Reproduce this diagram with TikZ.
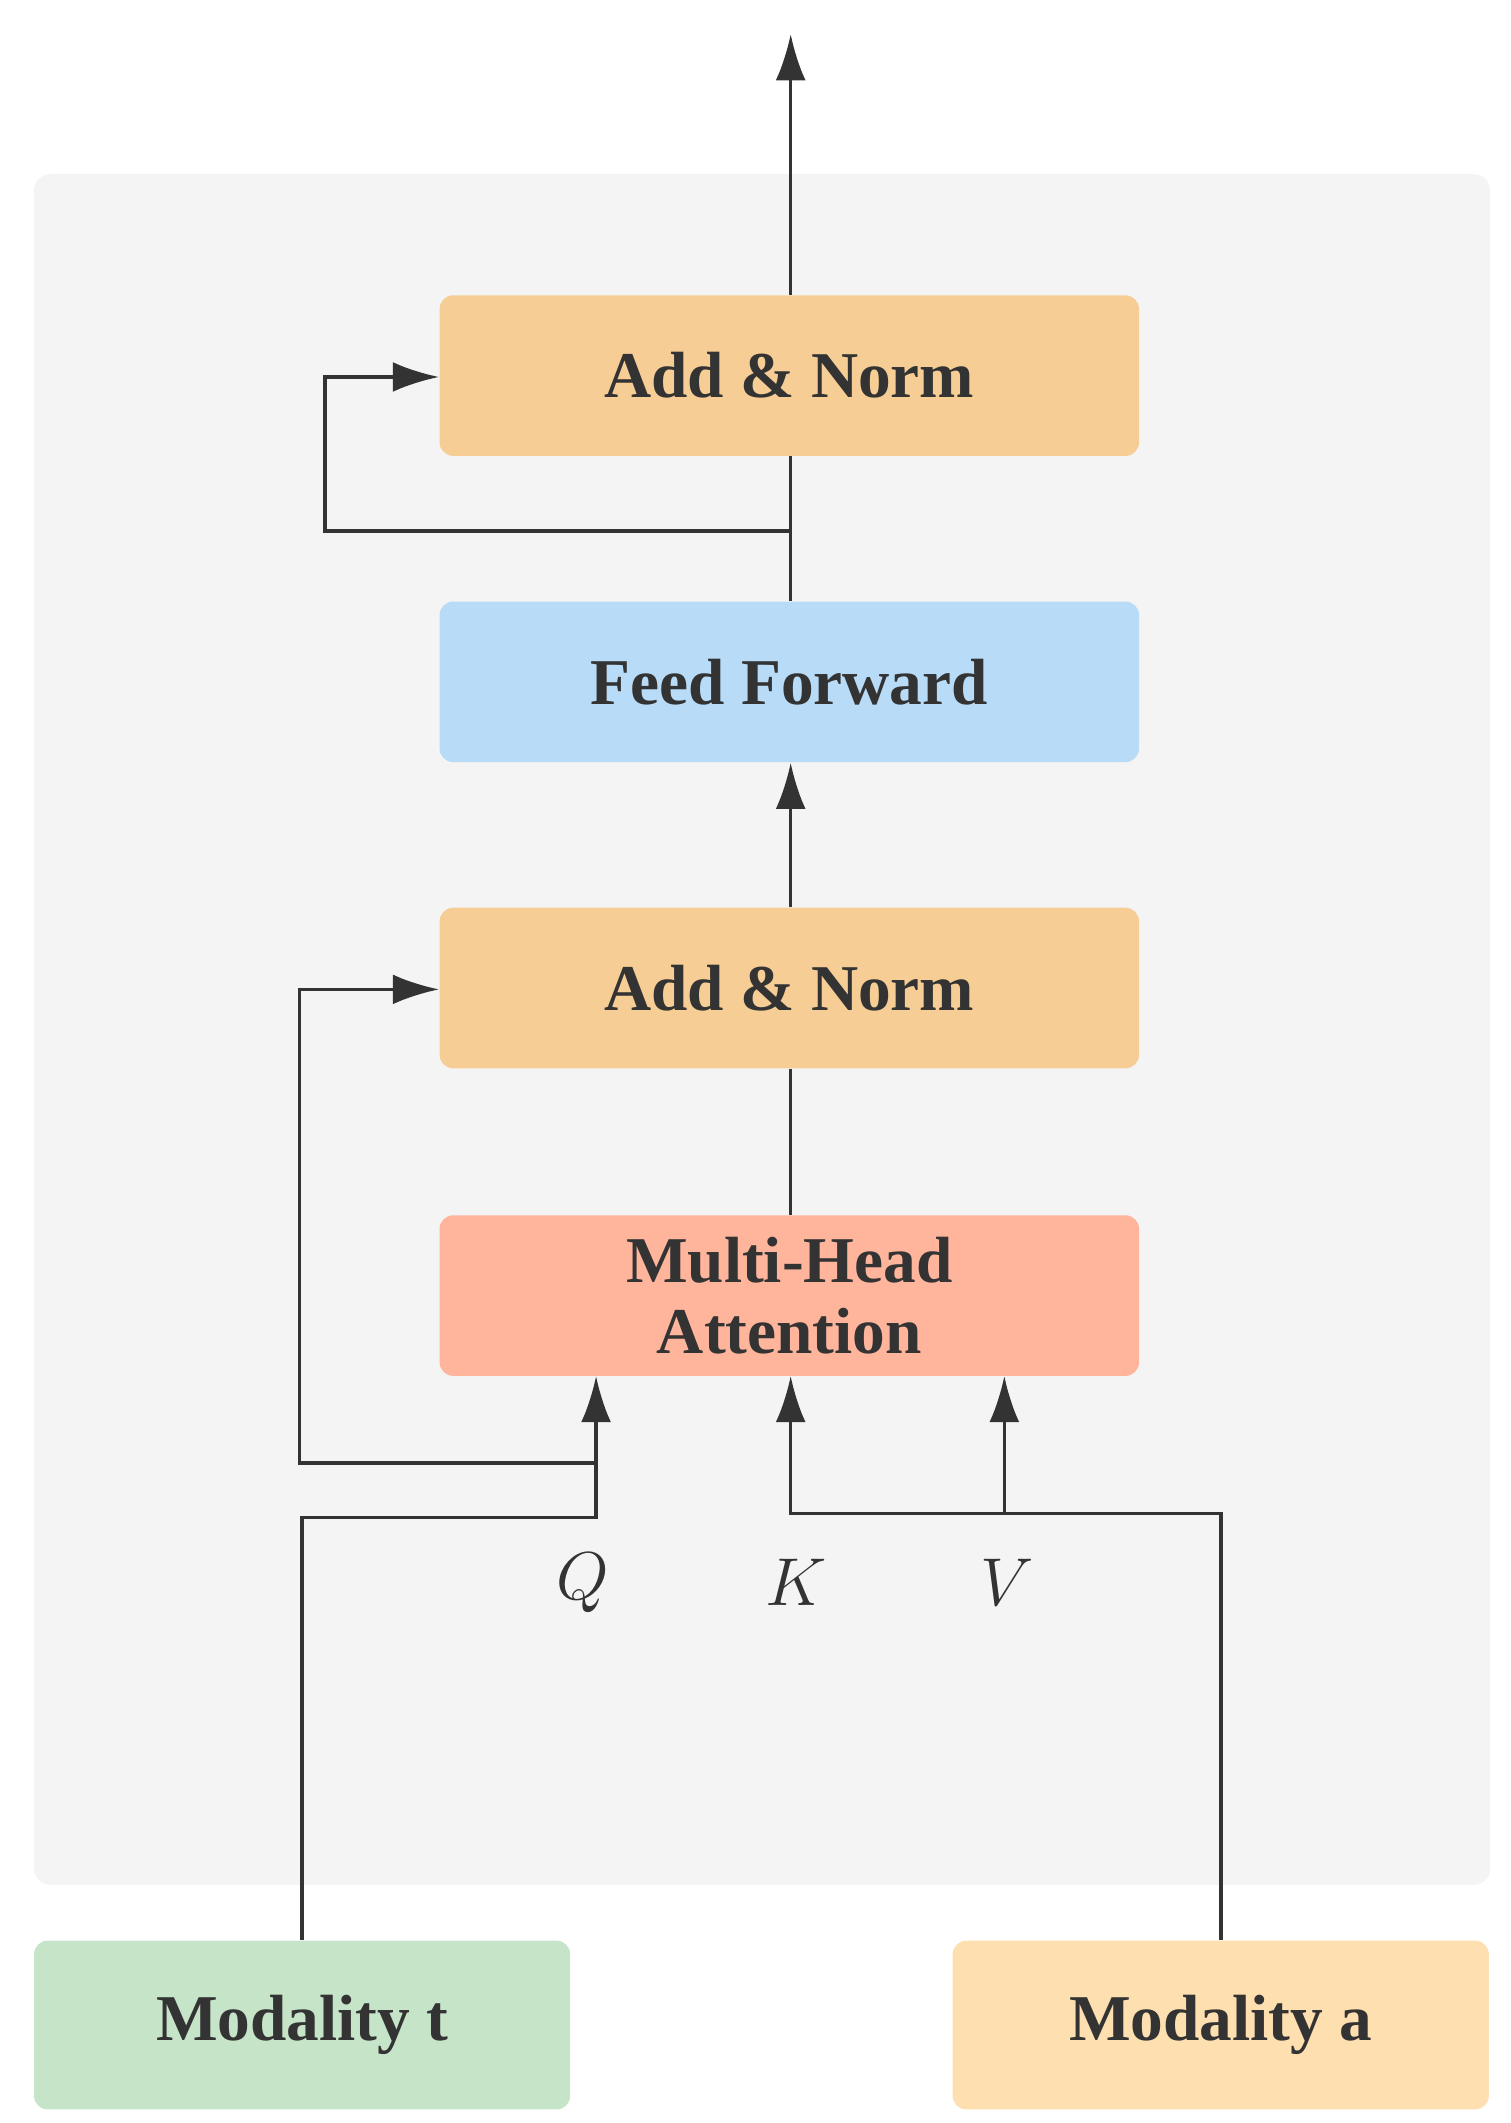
\documentclass[tikz,border=0pt]{standalone}
\usepackage{fontspec}
\setmainfont{Liberation Serif}
\usetikzlibrary{arrows.meta}
\definecolor{bg}{HTML}{F4F4F4}
\definecolor{addn}{HTML}{F6CE95}
\definecolor{ff}{HTML}{B8DCF8}
\definecolor{mha}{HTML}{FFB59C}
\definecolor{modt}{HTML}{C6E4C8}
\definecolor{moda}{HTML}{FEDFB0}
\definecolor{ink}{HTML}{333333}
\begin{document}
\begin{tikzpicture}[x=0.5pt,y=-0.5pt,
  box/.style={draw=none,rounded corners=5pt,inner sep=0pt,text=ink,font=\fontsize{24}{28}\selectfont\bfseries,align=center},
  ln/.style={draw=ink,line width=1.3pt},
  ar/.style={ln,-{Latex[length=17pt,width=11pt]}}]
\useasboundingbox (0,0) rectangle (1110,1560);
\fill[bg,rounded corners=6pt] (25,128) rectangle (1095,1385);
\node[box,fill=addn,minimum width=257pt,minimum height=59pt] (an1) at (580,276) {Add \& Norm};
\node[box,fill=ff,minimum width=257pt,minimum height=59pt] (ff) at (580,501) {Feed Forward};
\node[box,fill=addn,minimum width=257pt,minimum height=59pt] (an2) at (580,726) {Add \& Norm};
\node[box,fill=mha,minimum width=257pt,minimum height=59pt] (mh) at (580,952) {Multi-Head\\[-2pt]Attention};
\node[box,fill=modt,minimum width=197pt,minimum height=62pt] (mt) at (222,1488) {Modality t};
\node[box,fill=moda,minimum width=197pt,minimum height=62pt] (ma) at (897,1488) {Modality a};
\coordinate (top) at (581,25);
\coordinate (r1) at (581,390);
\coordinate (r2) at (438,1075);
\coordinate (kv) at (738,1112);
\node[text=ink,font=\fontsize{26}{30}\selectfont] (q) at (428,1163) {$Q$};
\node[text=ink,font=\fontsize{26}{30}\selectfont] (k) at (585,1163) {$K$};
\node[text=ink,font=\fontsize{26}{30}\selectfont] (v) at (740,1163) {$V$};
\draw[ar] (an1.north -| top) -- (top);
\draw[ln] (ff.north -| r1) -- (an1.south -| r1);
\draw[ar] (r1) -- (239,390) -- (239,277) -- (an1.west |- 0,277);
\draw[ar] (an2.north -| r1) -- (ff.south -| r1);
\draw[ln] (mh.north -| r1) -- (an2.south -| r1);
\draw[ar] (r2) -- (220,1075) -- (220,727) -- (an2.west |- 0,727);
\draw[ar] (mt.north -| 222,0) -- (222,1115) -- (438,1115) -- (438,1011);
\draw[ar] (ma.north -| 897,0) -- (897,1112) -- (581,1112) -- (581,1011);
\draw[ar] (kv) -- (738,1011);
\end{tikzpicture}
\end{document}
